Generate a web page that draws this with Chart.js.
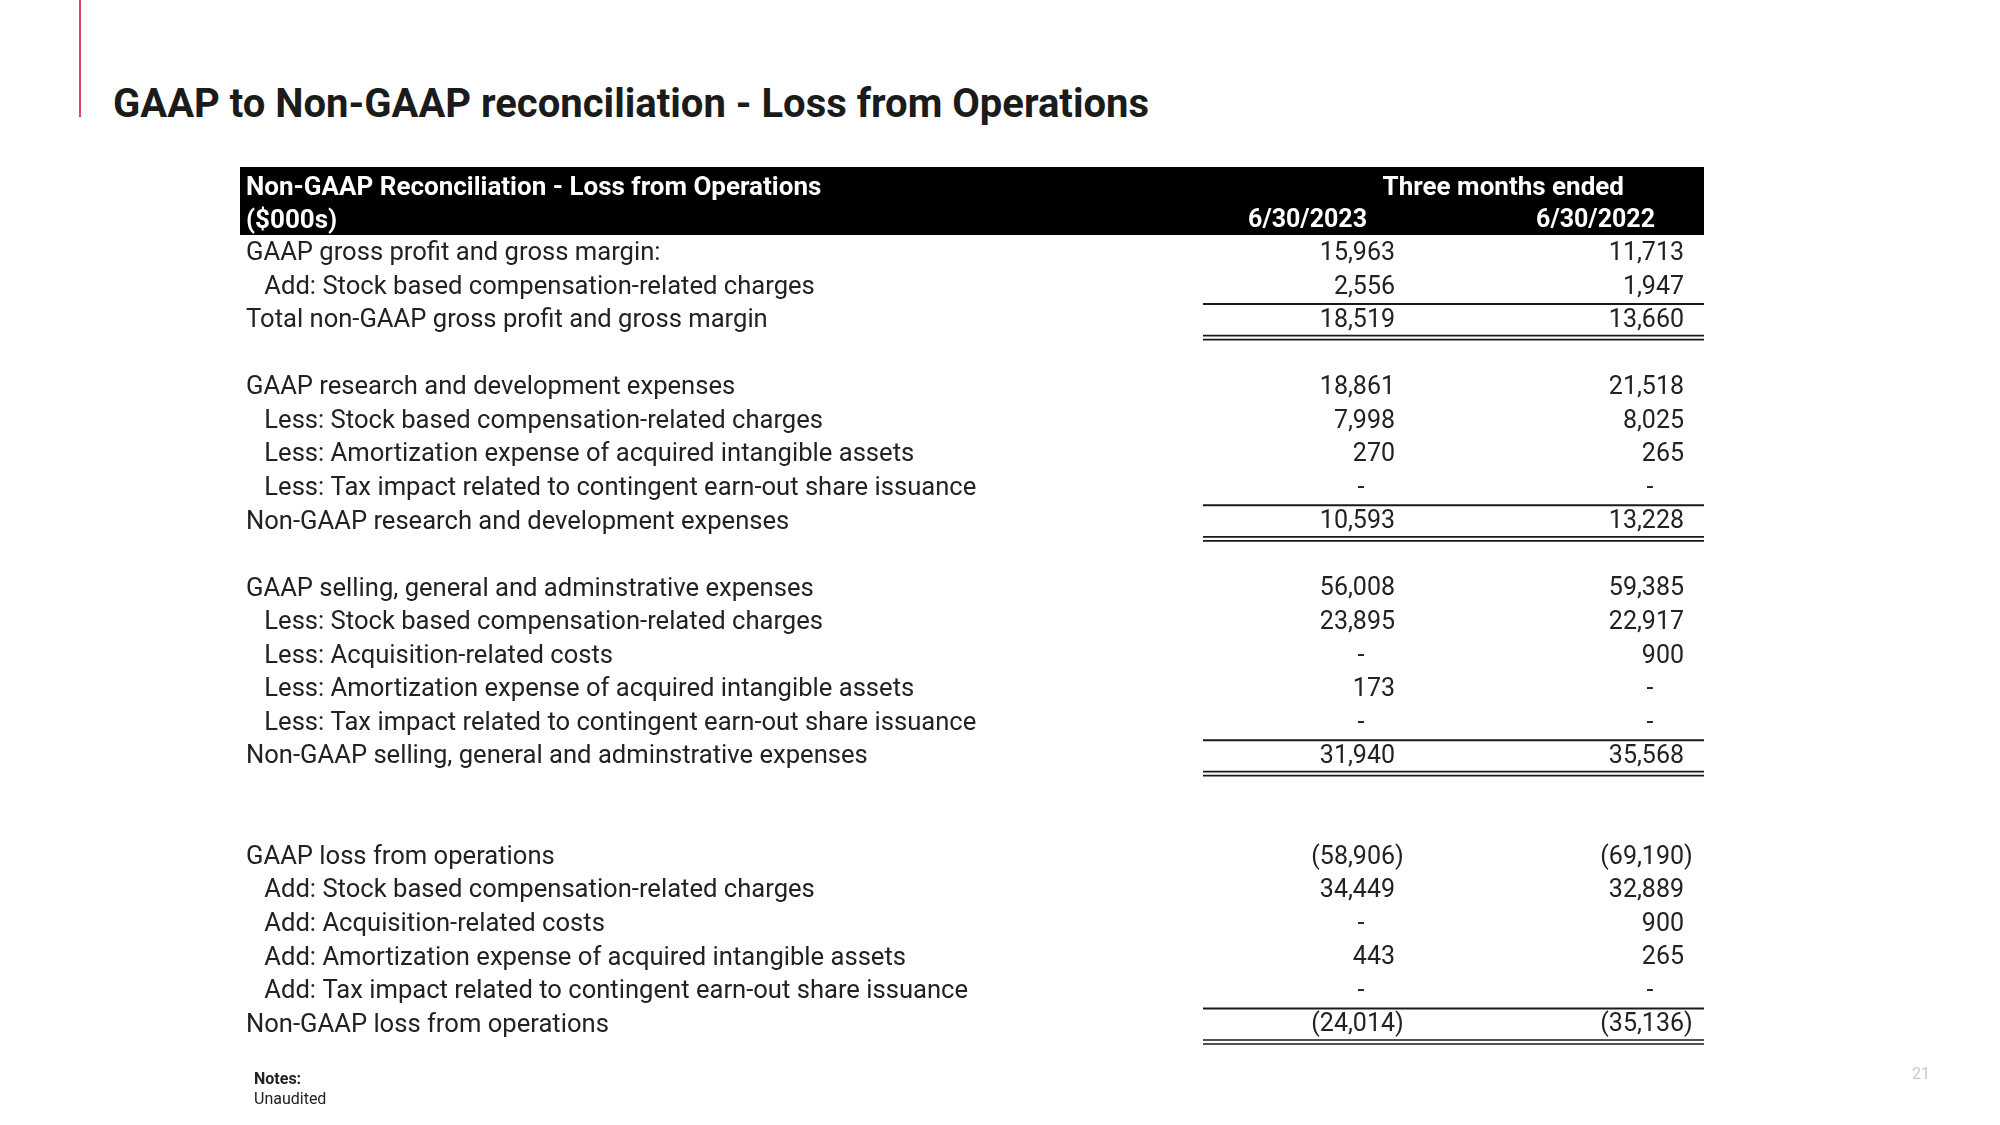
<!DOCTYPE html>
<html>
<head>
<meta charset="utf-8">
<title>GAAP to Non-GAAP reconciliation - Loss from Operations</title>
<script src="https://cdn.jsdelivr.net/npm/chart.js@4.4.0/dist/chart.umd.min.js"></script>
<style>
  html, body { margin: 0; padding: 0; background: #fff; }
  #page { position: relative; width: 2000px; height: 1125px; overflow: hidden; font-family: Roboto, sans-serif; }
  #accent { position: absolute; left: 79px; top: 0; width: 2px; height: 117px; background: #d94464; }
  #title { position: absolute; left: 113px; top: 81px; font: 700 40px Roboto, sans-serif; line-height: 46px; color: #1b1b1b; white-space: nowrap; }
  #notes { position: absolute; left: 254px; top: 1069px; font: 400 16px Roboto, sans-serif; line-height: 20px; color: #222; }
  #notes b { font-weight: 700; }
  #pageno { position: absolute; left: 1912px; top: 1064px; font: 400 16px Roboto, sans-serif; line-height: 20px; color: #c9c9c9; }
  #wrap { position: absolute; left: 0; top: 0; width: 2000px; height: 1125px; }
</style>
</head>
<body>
<div id="page">
  <div id="accent"></div>
  <div id="title">GAAP to Non-GAAP reconciliation - Loss from Operations</div>
  <div id="wrap"><canvas id="recon"></canvas></div>
  <div id="notes"><b>Notes:</b><br>Unaudited</div>
  <div id="pageno">21</div>
</div>

<script>
'use strict';

/* ── Data ── */
const IND = '\u2002\u2009';
const rowLabels = [
  'GAAP gross profit and gross margin:',
  IND + 'Add: Stock based compensation-related charges',
  'Total non-GAAP gross profit and gross margin',
  '',
  'GAAP research and development expenses',
  IND + 'Less: Stock based compensation-related charges',
  IND + 'Less: Amortization expense of acquired intangible assets',
  IND + 'Less: Tax impact related to contingent earn-out share issuance',
  'Non-GAAP research and development expenses',
  '',
  'GAAP selling, general and adminstrative expenses',
  IND + 'Less: Stock based compensation-related charges',
  IND + 'Less: Acquisition-related costs',
  IND + 'Less: Amortization expense of acquired intangible assets',
  IND + 'Less: Tax impact related to contingent earn-out share issuance',
  'Non-GAAP selling, general and adminstrative expenses',
  '',
  '',
  'GAAP loss from operations',
  IND + 'Add: Stock based compensation-related charges',
  IND + 'Add: Acquisition-related costs',
  IND + 'Add: Amortization expense of acquired intangible assets',
  IND + 'Add: Tax impact related to contingent earn-out share issuance',
  'Non-GAAP loss from operations',
];

const periods = ['6/30/2023', '6/30/2022'];

// null = blank row, 0 = shown as "-"
const values2023 = [15963, 2556, 18519, null,
  18861, 7998, 270, 0, 10593, null,
  56008, 23895, 0, 173, 0, 31940, null, null,
  -58906, 34449, 0, 443, 0, -24014];

const values2022 = [11713, 1947, 13660, null,
  21518, 8025, 265, 0, 13228, null,
  59385, 22917, 900, 0, 0, 35568, null, null,
  -69190, 32889, 900, 265, 0, -35136];

const subtotalRows = [2, 8, 15, 23];

const headerTitle = 'Non-GAAP Reconciliation - Loss from Operations';
const headerUnit = '($000s)';
const headerPeriod = 'Three months ended';

const series = [values2023, values2022];

/* ── Helpers ── */
const INK = '#222';
const HEAD_H = 70;
const fmt = (v) => Math.abs(v).toLocaleString('en-US');

const tablePlugin = {
  id: 'reconTable',
  beforeDraw(chart) {
    const { ctx, chartArea } = chart;
    const xs = chart.scales.x, ys = chart.scales.y;
    const c1 = xs.getPixelForValue(0), c2 = xs.getPixelForValue(1);
    const left = ys.left - 6, right = c2 + 20;
    const top = chartArea.top - HEAD_H;

    ctx.save();
    ctx.fillStyle = '#000';
    ctx.fillRect(left, top, right - left, HEAD_H - 2);

    ctx.fillStyle = '#fff';
    ctx.textBaseline = 'middle';
    ctx.font = '700 26px Roboto';
    ctx.textAlign = 'left';
    ctx.fillText(headerTitle, ys.left, top + 21);
    ctx.fillText(headerUnit, ys.left, top + 54);

    ctx.textAlign = 'right';
    ctx.fillText(headerPeriod, c2 - 60, top + 21);
    ctx.font = '700 25px Roboto';
    ctx.fillText(periods[0], c1 - 28, top + 54);
    ctx.fillText(periods[1], c2 - 29, top + 54);
    ctx.restore();
  },
  afterDatasetsDraw(chart) {
    const { ctx } = chart;
    const xs = chart.scales.x, ys = chart.scales.y;
    const c1 = xs.getPixelForValue(0), c2 = xs.getPixelForValue(1);
    const band = ys.getPixelForValue(1) - ys.getPixelForValue(0);
    const lx0 = c1 - 192, lx1 = c2 + 20;

    ctx.save();
    ctx.fillStyle = INK;
    ctx.font = '25px Roboto';
    ctx.textBaseline = 'middle';

    chart.data.datasets.forEach((ds, d) => {
      const meta = chart.getDatasetMeta(d);
      meta.data.forEach((pt, i) => {
        const v = series[d][i];
        if (v === null || v === undefined) return;
        const { x, y } = pt.getProps(['x', 'y'], true);
        if (v === 0) {
          ctx.textAlign = 'center';
          ctx.fillText('-', x - 34, y);
        } else if (v < 0) {
          ctx.textAlign = 'right';
          ctx.fillText('(' + fmt(v), x, y);
          ctx.textAlign = 'left';
          ctx.fillText(')', x, y);
        } else {
          ctx.textAlign = 'right';
          ctx.fillText(fmt(v), x, y);
        }
      });
    });

    // single rule above each subtotal, double rule below
    ctx.strokeStyle = '#1a1a1a';
    subtotalRows.forEach((r) => {
      const yc = ys.getPixelForValue(r);
      const above = yc - band / 2, below = yc + band / 2;
      ctx.lineWidth = 2;
      ctx.beginPath(); ctx.moveTo(lx0, above); ctx.lineTo(lx1, above); ctx.stroke();
      ctx.lineWidth = 1.6;
      [-2, 2].forEach((o) => {
        ctx.beginPath(); ctx.moveTo(lx0, below + o); ctx.lineTo(lx1, below + o); ctx.stroke();
      });
    });
    ctx.restore();
  },
};

Chart.defaults.font.family = 'Roboto';
Chart.defaults.color = INK;

new Chart(document.getElementById('recon'), {
  type: 'scatter',
  data: {
    datasets: series.map((vals, k) => ({
      label: periods[k],
      data: vals.map((v, i) => ({ x: periods[k], y: i })),
      pointRadius: 0,
      pointHoverRadius: 0,
      showLine: false,
    })),
  },
  options: {
    responsive: true,
    maintainAspectRatio: false,
    animation: false,
    events: [],
    layout: { padding: { left: 246, right: 316, top: 237, bottom: 83 } },
    plugins: { legend: { display: false }, tooltip: { enabled: false }, title: { display: false } },
    scales: {
      x: {
        type: 'category',
        labels: periods,
        offset: false,
        display: false,
      },
      y: {
        type: 'category',
        labels: rowLabels,
        offset: true,
        grid: { display: false },
        border: { display: false },
        ticks: {
          autoSkip: false,
          crossAlign: 'far',
          padding: 0,
          color: INK,
          font: { family: 'Roboto', size: 25.6 },
        },
        afterFit: (s) => { s.width = 1395 - 246; },
      },
    },
  },
  plugins: [tablePlugin],
});
</script>
</body>
</html>
